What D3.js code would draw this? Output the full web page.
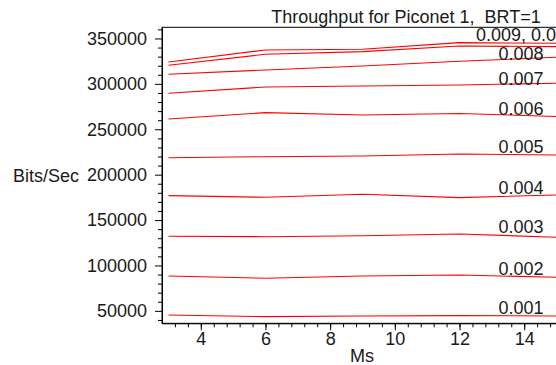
<!DOCTYPE html>
<html>
<head>
<meta charset="utf-8">
<script src="https://cdn.jsdelivr.net/npm/d3@7"></script>
<style>
  body { margin: 0; background: #fff; }
  svg { display: block; font-family: "Liberation Sans", Arial, Helvetica, sans-serif; }
  .axis path, .axis line { stroke: #000; }
  .axis text { font-size: 18px; fill: #1a1a1a; font-family: "Liberation Sans", Arial, sans-serif; }
</style>
</head>
<body>
<div id="chart"></div>
<script>
// Ms values along x
const msValues = [3, 6, 9, 12, 15];

// series names (BRT arrival rates) and throughput in bits/sec
const seriesNames = ["0.001", "0.002", "0.003", "0.004", "0.005", "0.006", "0.007", "0.008", "0.009", "0.01"];
const s001 = [45500, 43600, 44400, 44700, 44400];
const s002 = [88400, 85900, 88400, 89500, 87000];
const s003 = [132200, 131700, 132800, 134700, 131100];
const s004 = [176900, 175100, 178400, 174700, 177600];
const s005 = [218700, 219800, 220600, 222800, 221700];
const s006 = [261300, 268300, 265700, 267400, 264100];
const s007 = [289600, 296600, 297700, 298800, 300700];
const s008 = [310600, 315300, 319700, 324900, 329300];
const s009 = [320500, 332600, 335500, 341700, 341000];
const s010 = [324100, 337300, 338100, 345400, 344700];
const seriesValues = [s001, s002, s003, s004, s005, s006, s007, s008, s009, s010];

// curve labels (the top two curves share one label) and the level they sit at
const curveLabels = ["0.001", "0.002", "0.003", "0.004", "0.005", "0.006", "0.007", "0.008", "0.009, 0.01"];
const labelLevels = [54000, 96900, 142700, 186100, 230800, 273100, 306200, 333700, 354600];

const xTicks = [4, 6, 8, 10, 12, 14];
const yTicks = [50000, 100000, 150000, 200000, 250000, 300000, 350000];

const width = 556, height = 365;
const svg = d3.select("#chart").append("svg")
  .attr("width", width)
  .attr("height", height);

const x = d3.scaleLinear().domain([2.8, 15.2]).range([162, 563]);
const y = d3.scaleLinear().domain([36300, 362300]).range([323.3, 27.3]);

// frame
svg.append("rect")
  .attr("x", x(2.8)).attr("y", y(362300))
  .attr("width", x(15.2) - x(2.8)).attr("height", y(36300) - y(362300))
  .attr("fill", "none").attr("stroke", "#000");

// minor ticks
const xMinor = d3.range(-3, 30).map(i => 4 + i * 0.4).filter(v => v > 2.85 && v < 15.2);
const yMinor = d3.range(4, 37).map(i => i * 10000).filter(v => v % 50000 !== 0);

svg.append("g").attr("class", "axis")
  .attr("transform", `translate(0,${y(36300)})`)
  .call(d3.axisBottom(x).tickValues(xMinor).tickSize(4).tickFormat(""))
  .call(g => g.select(".domain").remove());
svg.append("g").attr("class", "axis")
  .attr("transform", `translate(${x(2.8)},0)`)
  .call(d3.axisLeft(y).tickValues(yMinor).tickSize(4).tickFormat(""))
  .call(g => g.select(".domain").remove());

// major axes
svg.append("g").attr("class", "axis")
  .attr("transform", `translate(0,${y(36300)})`)
  .call(d3.axisBottom(x).tickValues(xTicks).tickSize(7).tickPadding(2).tickSizeOuter(0).tickFormat(d3.format("d")));
svg.append("g").attr("class", "axis")
  .attr("transform", `translate(${x(2.8)},0)`)
  .call(d3.axisLeft(y).tickValues(yTicks).tickSize(7).tickPadding(8).tickSizeOuter(0).tickFormat(d3.format("d")));

// lines
const line = d3.line()
  .x((d, i) => x(msValues[i]))
  .y(d => y(d));

svg.append("g").selectAll("path")
  .data(seriesValues)
  .join("path")
  .attr("d", line)
  .attr("fill", "none")
  .attr("stroke", "#ff0000")
  .attr("stroke-width", 1.1);

// curve labels
svg.append("g").selectAll("text")
  .data(curveLabels)
  .join("text")
  .attr("x", x(13.9))
  .attr("y", (d, i) => y(labelLevels[i]))
  .attr("dy", "0.36em")
  .attr("text-anchor", "middle")
  .attr("font-size", 18)
  .attr("fill", "#1a1a1a")
  .text(d => d);

// titles
svg.append("text")
  .attr("x", 406).attr("y", 22.5)
  .attr("text-anchor", "middle")
  .attr("font-size", 18)
  .attr("fill", "#1a1a1a")
  .style("white-space", "pre")
  .text("Throughput for Piconet 1,  BRT=1");

svg.append("text")
  .attr("x", 362).attr("y", 361.5)
  .attr("text-anchor", "middle")
  .attr("font-size", 18)
  .attr("fill", "#1a1a1a")
  .text("Ms");

svg.append("text")
  .attr("x", 13).attr("y", 181.5)
  .attr("font-size", 18)
  .attr("fill", "#1a1a1a")
  .text("Bits/Sec");
</script>
</body>
</html>
